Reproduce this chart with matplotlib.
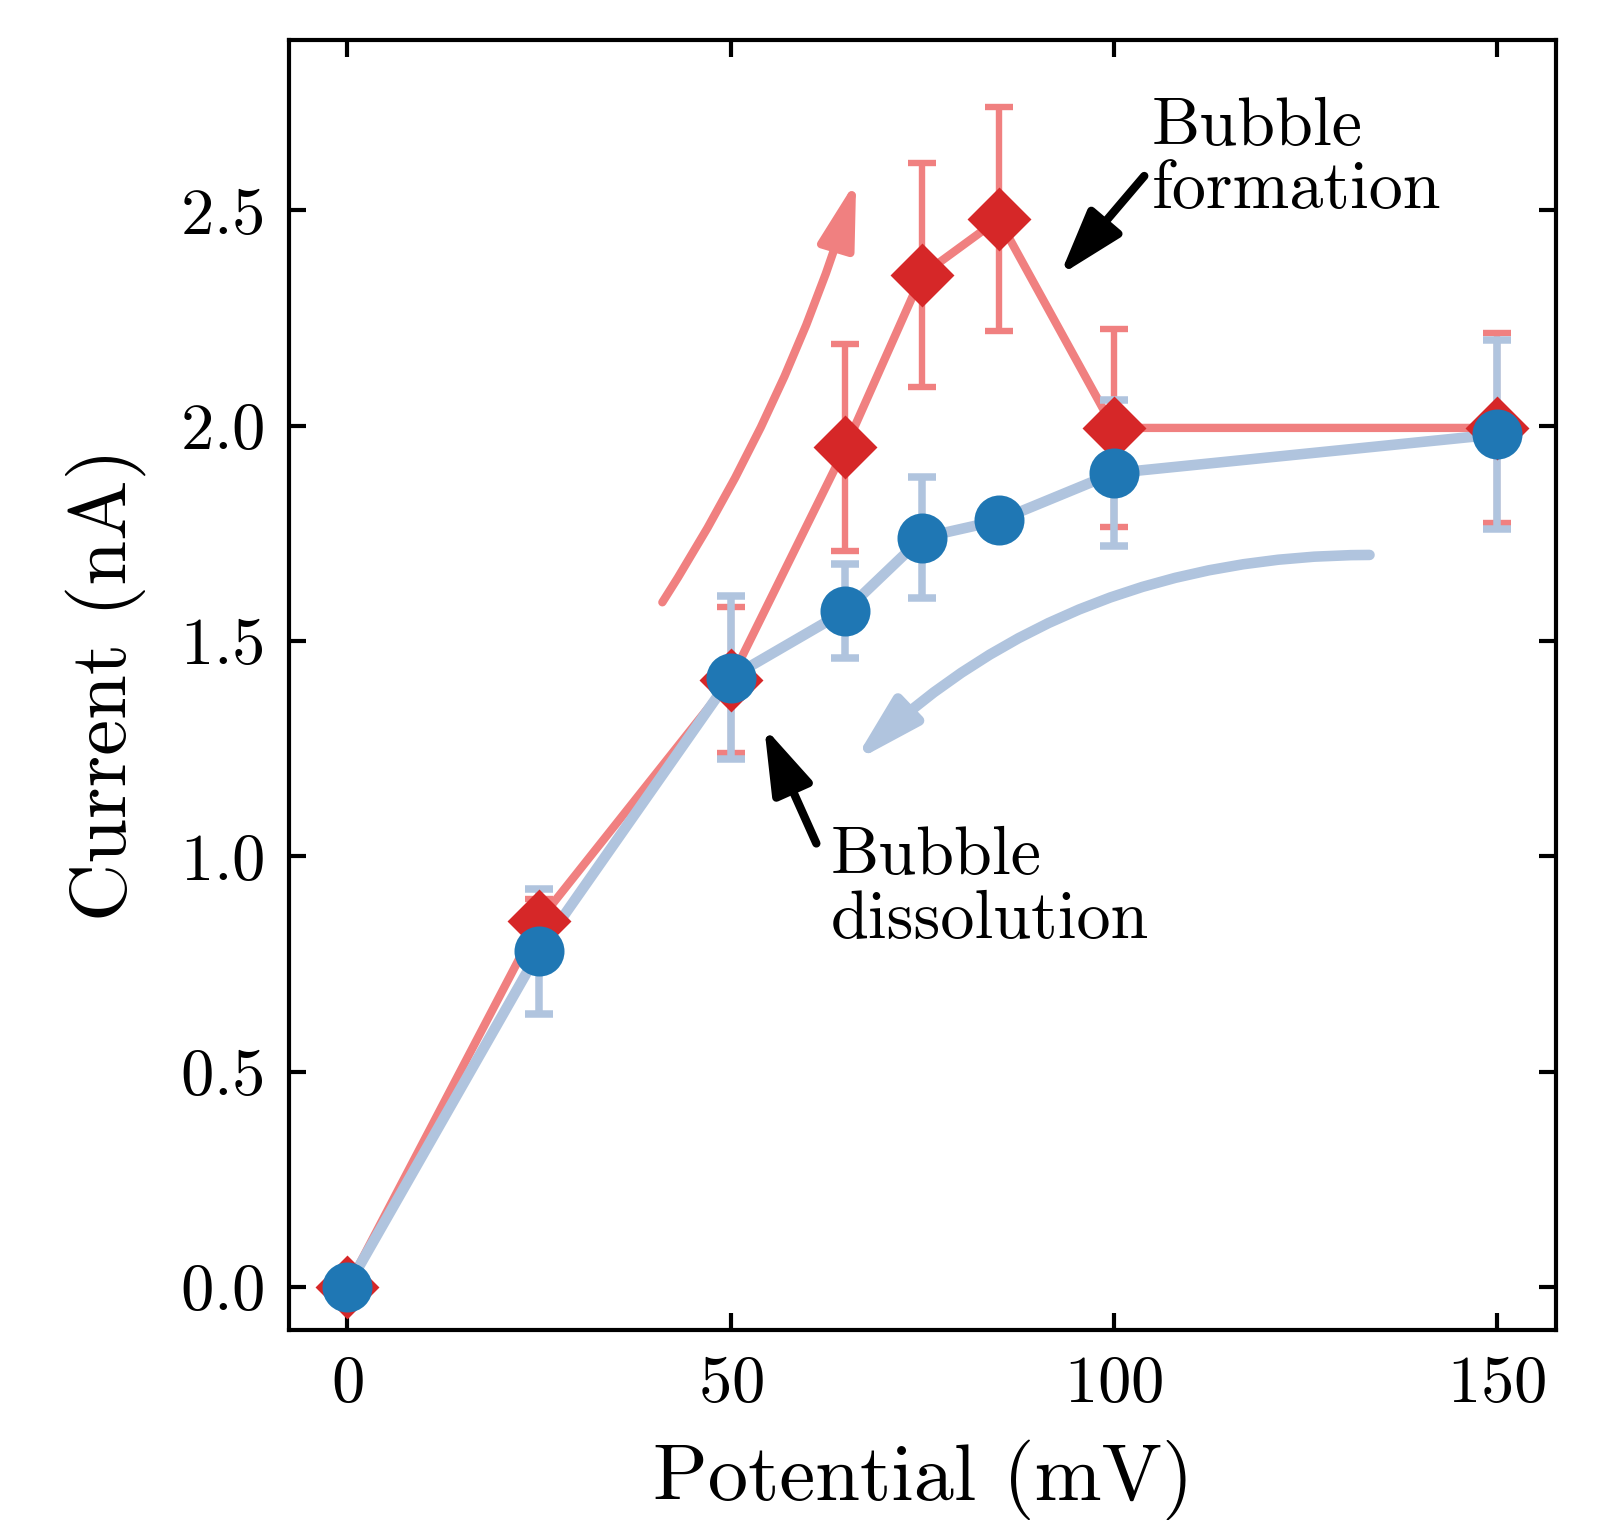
import matplotlib
matplotlib.use("Agg")
import matplotlib.pyplot as plt
from matplotlib.patches import FancyArrowPatch

plt.rcParams['font.family'] = 'serif'
plt.rcParams['font.serif'] = ['cmr10', 'DejaVu Serif']
plt.rcParams['mathtext.fontset'] = 'cm'
plt.rcParams['axes.formatter.use_mathtext'] = True

# Data
potential = [0, 25, 50, 65, 75, 85, 100, 150]
formation_current = [0.0, 0.85, 1.41, 1.95, 2.35, 2.48, 1.995, 1.995]
formation_err = [0.0, 0.05, 0.17, 0.24, 0.26, 0.26, 0.23, 0.22]
dissolution_current = [0.0, 0.78, 1.415, 1.57, 1.74, 1.78, 1.89, 1.98]
dissolution_err = [0.0, 0.145, 0.19, 0.11, 0.14, 0.03, 0.17, 0.22]

xticks = [0, 50, 100, 150]
yticks = [0.0, 0.5, 1.0, 1.5, 2.0, 2.5]

red_line = '#f08080'
red_mark = '#d62728'
blue_line = '#b0c4de'
blue_mark = '#1f77b4'

fig = plt.figure(figsize=(7.99, 7.6), dpi=200)
ax = fig.add_axes([0.181, 0.125, 0.793, 0.849])

ax.errorbar(potential, formation_current, yerr=formation_err, color=red_line,
            lw=3.0, elinewidth=2.3, capsize=5, capthick=2.3, zorder=2)
ax.errorbar(potential, dissolution_current, yerr=dissolution_err, color=blue_line,
            lw=3.8, elinewidth=2.7, capsize=5, capthick=2.7, zorder=3)
ax.plot(potential, formation_current, ls='none', marker='D', ms=15.5,
        color=red_mark, zorder=4)
ax.plot(potential, dissolution_current, ls='none', marker='o', ms=17,
        color=blue_mark, zorder=5)

# Direction arrows
ax.add_patch(FancyArrowPatch((41.1, 1.59), (66.4, 2.57), connectionstyle='arc3,rad=0.07',
                             arrowstyle='-|>,head_length=0.8,head_width=0.22',
                             mutation_scale=25, lw=3, color=red_line,
                             shrinkA=0, shrinkB=0, zorder=1))
ax.add_patch(FancyArrowPatch((133.4, 1.70), (66.1, 1.22), connectionstyle='arc3,rad=0.2',
                             arrowstyle='-|>,head_length=0.8,head_width=0.22',
                             mutation_scale=25, lw=3.8, color=blue_line,
                             shrinkA=0, shrinkB=0, zorder=1))

# Annotations
ax.annotate('', xy=(93.0, 2.35), xytext=(104.0, 2.58),
            arrowprops=dict(arrowstyle='-|>,head_length=0.5,head_width=0.16',
                            mutation_scale=40, lw=3, color='k',
                            shrinkA=0, shrinkB=0))
ax.text(105.0, 2.765, 'Bubble\nformation', fontsize=24.5, ha='left', va='top',
        linespacing=1.05)
ax.annotate('', xy=(54.4, 1.30), xytext=(61.2, 1.03),
            arrowprops=dict(arrowstyle='-|>,head_length=0.5,head_width=0.16',
                            mutation_scale=40, lw=3, color='k',
                            shrinkA=0, shrinkB=0))
ax.text(63.1, 1.07, 'Bubble\ndissolution', fontsize=24.5, ha='left', va='top',
        linespacing=1.05)

ax.set_xlim(-7.6, 157.8)
ax.set_ylim(-0.1, 2.897)
ax.set_xticks(xticks)
ax.set_yticks(yticks)
ax.tick_params(direction='in', top=True, right=True, length=6, width=1.5,
               labelsize=24, pad=9)
for s in ax.spines.values():
    s.set_linewidth(1.5)

ax.set_xlabel('Potential (mV)', fontsize=29, labelpad=9)
ax.set_ylabel('Current (nA)', fontsize=29, labelpad=12)

fig.savefig('out.png', dpi=200)
